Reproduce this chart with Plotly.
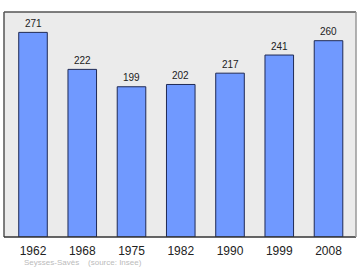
import plotly.graph_objects as go

years = ["1962", "1968", "1975", "1982", "1990", "1999", "2008"]
population = [271, 222, 199, 202, 217, 241, 260]
source_text = "Seysses-Savès    (source: Insee)"

xs = list(range(len(years)))

fig = go.Figure()
fig.add_trace(go.Bar(
    x=xs, y=population, width=0.58,
    marker=dict(color="#7099FF", line=dict(color="#1f2a55", width=1)),
    hoverinfo="skip",
))

for xi, v in zip(xs, population):
    fig.add_annotation(x=xi, y=v, text=str(v), showarrow=False, yshift=9,
                       font=dict(family="Liberation Sans, Arial", size=10, color="#222"))

fig.add_annotation(xref="paper", yref="paper", x=(22 - 4) / 352, y=-25 / 225,
                   xanchor="left", yanchor="middle", text=source_text, showarrow=False,
                   font=dict(family="Liberation Sans, Arial", size=8, color="#bbbbbb"))

# frame
fig.add_shape(type="line", xref="paper", yref="paper", x0=0, x1=0, y0=0, y1=1,
              line=dict(color="#555", width=1.5))
fig.add_shape(type="line", xref="paper", yref="paper", x0=0, x1=1, y0=1, y1=1,
              line=dict(color="#555", width=1.5))
fig.add_shape(type="line", xref="paper", yref="paper", x0=0, x1=1, y0=0, y1=0,
              line=dict(color="#333", width=1.5))
fig.add_shape(type="line", xref="paper", yref="paper", x0=1, x1=1, y0=0, y1=1,
              line=dict(color="#999", width=1.5))

fig.update_layout(
    width=360, height=270, autosize=False,
    margin=dict(l=4, r=4, t=12, b=33),
    paper_bgcolor="white", plot_bgcolor="#ebebeb",
    showlegend=False,
    xaxis=dict(range=[-0.589, 6.558], tickmode="array", tickvals=xs, ticktext=years,
               showgrid=False, zeroline=False, showline=False, ticks="",
               ticklabelstandoff=5,
               tickfont=dict(family="Liberation Sans, Arial", size=12, color="#222")),
    yaxis=dict(range=[0, 298], showgrid=False, zeroline=False, showline=False,
               showticklabels=False, ticks=""),
)

fig.write_html("out.html")
